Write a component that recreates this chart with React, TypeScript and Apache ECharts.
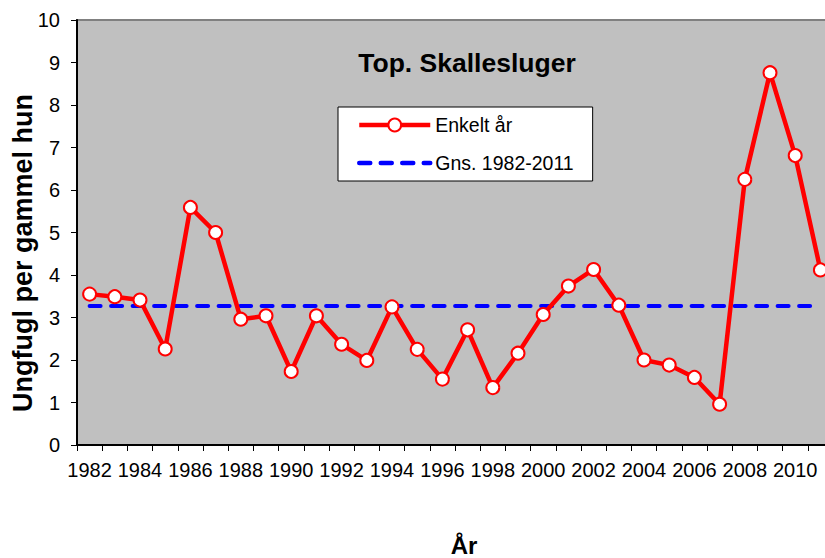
import React, { useEffect, useRef } from "react";
import * as echarts from "echarts";

const years = [
  "1982", "1983", "1984", "1985", "1986", "1987", "1988", "1989", "1990", "1991",
  "1992", "1993", "1994", "1995", "1996", "1997", "1998", "1999", "2000", "2001",
  "2002", "2003", "2004", "2005", "2006", "2007", "2008", "2009", "2010", "2011",
];
const yearlyValues = [
  3.55, 3.49, 3.41, 2.26, 5.59, 5.0, 2.96, 3.04, 1.73, 3.04,
  2.37, 1.99, 3.25, 2.25, 1.55, 2.71, 1.35, 2.16, 3.07, 3.74,
  4.13, 3.29, 2.0, 1.88, 1.59, 0.96, 6.25, 8.76, 6.81, 4.12,
];
const averageValue = 3.27;
const seriesNames = ["Enkelt år", "Gns. 1982-2011"];
const titleText = "Top. Skallesluger";
const yAxisName = "Ungfugl per gammel hun";
const xAxisName = "År";

const FONT = "Arial, 'Liberation Sans', sans-serif";
const DASH = [11, 10.5];

export default function App() {
  const ref = useRef<HTMLDivElement>(null);
  useEffect(() => {
    if (!ref.current) return;
    const chart = echarts.init(ref.current, null, { renderer: "svg" });
    chart.setOption({
      animation: false,
      backgroundColor: "#ffffff",
      textStyle: { fontFamily: FONT },
      grid: {
        left: 77,
        top: 20,
        width: 756,
        height: 425,
        show: true,
        backgroundColor: "#C0C0C0",
        borderColor: "#808080",
        borderWidth: 2,
      },
      legend: {
        orient: "vertical",
        left: 338,
        top: 107,
        backgroundColor: "#ffffff",
        borderColor: "#000000",
        borderWidth: 1,
        borderRadius: 0,
        padding: [8, 19, 8, 19],
        itemWidth: 71,
        itemHeight: 16,
        itemGap: 18,
        textStyle: { fontSize: 19.5, color: "#000", fontFamily: FONT },
        data: [
          {
            name: seriesNames[0],
            lineStyle: { color: "#FF0000", width: 4.5 },
            itemStyle: { color: "#FFFFFF", borderColor: "#FF0000", borderWidth: 2 },
          },
          {
            name: seriesNames[1],
            lineStyle: { color: "#0000FF", width: 4.5, type: DASH, cap: "round" },
            itemStyle: { opacity: 0 },
          },
        ],
      },
      graphic: [
        {
          type: "text",
          x: 467,
          y: 63,
          style: {
            text: titleText,
            font: `bold 26.5px ${FONT}`,
            fill: "#000",
            align: "center",
            verticalAlign: "middle",
          },
        },
        {
          type: "text",
          x: 464,
          y: 545,
          style: {
            text: xAxisName,
            font: `bold 24px ${FONT}`,
            fill: "#000",
            align: "center",
            verticalAlign: "middle",
          },
        },
        {
          type: "text",
          x: 23,
          y: 253,
          rotation: Math.PI / 2,
          style: {
            text: yAxisName,
            font: `bold 27px ${FONT}`,
            fill: "#000",
            align: "center",
            verticalAlign: "middle",
          },
        },
      ],
      xAxis: {
        type: "category",
        data: years,
        boundaryGap: true,
        axisLine: { lineStyle: { color: "#000", width: 2 } },
        axisTick: { show: true, interval: 0, length: 6, lineStyle: { color: "#000", width: 1 } },
        axisLabel: { interval: 1, fontSize: 20, color: "#000", margin: 15, fontFamily: FONT },
        splitLine: { show: false },
      },
      yAxis: {
        type: "value",
        min: 0,
        max: 10,
        interval: 1,
        axisLine: { show: true, lineStyle: { color: "#000", width: 2 } },
        axisTick: { show: true, length: 6, lineStyle: { color: "#000", width: 1 } },
        axisLabel: { fontSize: 20, color: "#000", margin: 17, fontFamily: FONT },
        splitLine: { show: false },
      },
      series: [
        {
          name: seriesNames[0],
          type: "line",
          data: yearlyValues,
          symbol: "circle",
          symbolSize: 13,
          lineStyle: { color: "#FF0000", width: 4.5 },
          itemStyle: { color: "#FFFFFF", borderColor: "#FF0000", borderWidth: 2 },
          z: 3,
        },
        {
          name: seriesNames[1],
          type: "line",
          data: years.map(() => averageValue),
          symbol: "none",
          lineStyle: { color: "#0000FF", width: 4, type: DASH, cap: "round" },
          itemStyle: { color: "#0000FF" },
          z: 2,
        },
      ],
    });
    return () => chart.dispose();
  }, []);
  return (
    <div style={{ position: "fixed", left: 0, top: 0, width: 825, height: 558, overflow: "hidden" }}>
      <div ref={ref} style={{ width: 841, height: 558 }} />
    </div>
  );
}
